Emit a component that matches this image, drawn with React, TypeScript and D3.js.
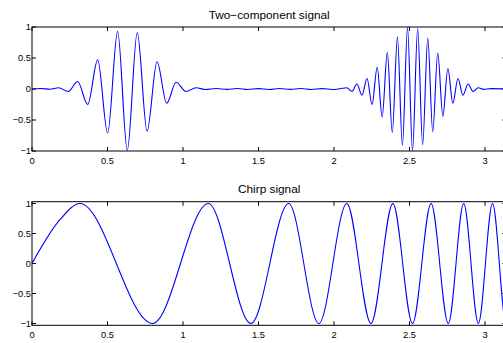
import React, { useEffect, useRef } from 'react';
import * as d3 from 'd3';

// Two-component signal: extrema (t, value)
const twoCompT = [
  0, 0.06, 0.12, 0.176, 0.24, 0.302, 0.369, 0.435, 0.501, 0.567, 0.631, 0.697, 0.762, 0.828, 0.892, 0.954,
  1.02, 1.086, 1.15, 1.22, 1.29, 1.36, 1.43, 1.5, 1.57, 1.64, 1.71, 1.78, 1.85, 1.92, 1.99, 2.04,
  2.085, 2.119, 2.152, 2.185, 2.219, 2.252, 2.286, 2.319, 2.353, 2.386, 2.42, 2.453, 2.487, 2.52,
  2.554, 2.587, 2.621, 2.654, 2.687, 2.721, 2.754, 2.787, 2.821, 2.854, 2.888, 2.921, 2.955, 2.99,
  3.04, 3.1416,
];
const twoCompV = [
  0, 0.008, -0.004, 0.02, -0.04, 0.12, -0.25, 0.47, -0.71, 0.93, -0.99, 0.91, -0.68, 0.44, -0.23, 0.11,
  -0.04, 0.02, -0.008, 0.008, -0.006, 0.008, -0.008, 0.006, -0.008, 0.008, -0.006, 0.008, -0.008, 0.006, -0.008, 0.004,
  0.02, -0.04, 0.08, -0.1, 0.17, -0.25, 0.35, -0.45, 0.59, -0.7, 0.84, -0.91, 0.99, -1.0,
  0.98, -0.9, 0.82, -0.69, 0.58, -0.44, 0.33, -0.23, 0.17, -0.1, 0.08, -0.04, 0.02, -0.006,
  0.006, 0,
];

// Chirp signal: start, extrema and end
const chirpT = [0, 0.185, 0.318, 0.799, 1.168, 1.45, 1.7, 1.9, 2.085, 2.245, 2.39, 2.52, 2.643, 2.757, 2.859, 2.956, 3.05, 3.14, 3.1416];
const chirpV = [0, 0.73, 1, -1, 1, -1, 1, -1, 1, -1, 1, -1, 1, -1, 1, -1, 1, -1, -1];

const xTicks = [0, 0.5, 1, 1.5, 2, 2.5, 3];
const yTicks = [-1, -0.5, 0, 0.5, 1];
const titles = ['Two\u2212component signal', 'Chirp signal'];

const fmt = (v: number) => (v < 0 ? '\u2212' + String(-v) : String(v));

const App: React.FC = () => {
  const ref = useRef<SVGSVGElement>(null);

  useEffect(() => {
    if (!ref.current) return;
    const svg = d3.select(ref.current);
    svg.selectAll('*').remove();

    const W = 503, H = 343;
    svg.attr('width', W).attr('height', H);

    const left = 32;
    const right = 32 + 151 * Math.PI;
    const panels = [
      { top: 27, bottom: 151, ylim: [-1, 1], t: twoCompT, v: twoCompV, title: titles[0] },
      { top: 201.7, bottom: 325.3, ylim: [-1.03, 1.03], t: chirpT, v: chirpV, title: titles[1] },
    ];

    const x = d3.scaleLinear().domain([0, Math.PI]).range([left, right]);
    const tickLen = 4;

    panels.forEach((p, i) => {
      const y = d3.scaleLinear().domain(p.ylim).range([p.bottom, p.top]);
      const g = svg.append('g');

      // clip area
      const clipId = `clip${i}`;
      svg.append('clipPath').attr('id', clipId)
        .append('rect')
        .attr('x', left).attr('y', p.top)
        .attr('width', right - left).attr('height', p.bottom - p.top);

      const pts = p.t.map((t, k) => [t, p.v[k]] as [number, number]);
      const line = d3.line<[number, number]>()
        .x(d => x(d[0]))
        .y(d => y(d[1]))
        .curve(d3.curveMonotoneX);

      g.append('path')
        .datum(pts)
        .attr('clip-path', `url(#${clipId})`)
        .attr('fill', 'none')
        .attr('stroke', '#0000ff')
        .attr('stroke-width', 1.1)
        .attr('d', line);

      // box
      g.append('rect')
        .attr('x', left).attr('y', p.top)
        .attr('width', right - left).attr('height', p.bottom - p.top)
        .attr('fill', 'none')
        .attr('stroke', '#000')
        .attr('stroke-width', 1);

      // x ticks top and bottom, inside
      xTicks.forEach(t => {
        const px = x(t);
        g.append('line').attr('x1', px).attr('x2', px)
          .attr('y1', p.bottom).attr('y2', p.bottom - tickLen)
          .attr('stroke', '#000').attr('stroke-width', 1);
        g.append('line').attr('x1', px).attr('x2', px)
          .attr('y1', p.top).attr('y2', p.top + tickLen)
          .attr('stroke', '#000').attr('stroke-width', 1);
        g.append('text')
          .attr('x', px).attr('y', p.bottom + 12.5)
          .attr('text-anchor', 'middle')
          .attr('font-family', 'Liberation Sans, Arial, sans-serif')
          .attr('font-size', '9.3px')
          .attr('fill', '#000')
          .text(fmt(t));
      });

      // y ticks left and right, inside
      yTicks.forEach(v => {
        const py = y(v);
        g.append('line').attr('x1', left).attr('x2', left + tickLen)
          .attr('y1', py).attr('y2', py)
          .attr('stroke', '#000').attr('stroke-width', 1);
        g.append('line').attr('x1', right).attr('x2', right - tickLen)
          .attr('y1', py).attr('y2', py)
          .attr('stroke', '#000').attr('stroke-width', 1);
        g.append('text')
          .attr('x', 31).attr('y', py)
          .attr('dy', '0.35em')
          .attr('text-anchor', 'end')
          .attr('font-family', 'Liberation Sans, Arial, sans-serif')
          .attr('font-size', '9.3px')
          .attr('fill', '#000')
          .text(fmt(v));
      });

      // title
      g.append('text')
        .attr('x', (left + right) / 2)
        .attr('y', p.top - 8.5)
        .attr('text-anchor', 'middle')
        .attr('font-family', 'Liberation Sans, Arial, sans-serif')
        .attr('font-size', '11.8px')
        .attr('fill', '#000')
        .text(p.title);
    });
  }, []);

  return (
    <svg
      ref={ref}
      style={{ position: 'absolute', left: 0, top: 0, display: 'block', background: '#fff' }}
    />
  );
};

export default App;
